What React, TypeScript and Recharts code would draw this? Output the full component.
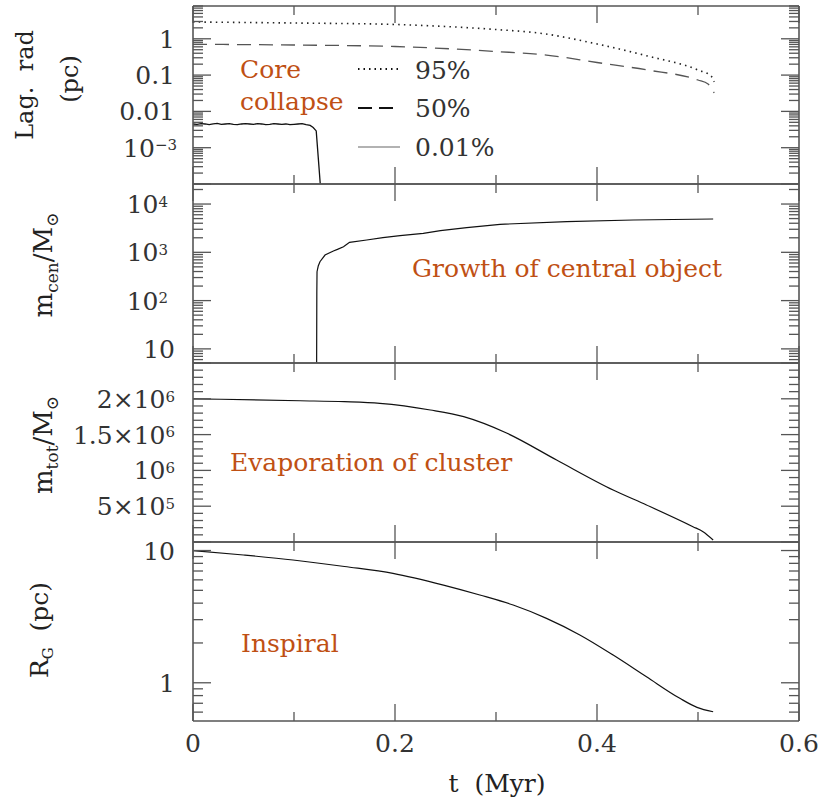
import React from 'react';
import { LineChart, Line, XAxis, YAxis } from 'recharts';

const W = 821;
const H = 802;
const PLOT_LEFT = 193;
const PLOT_RIGHT = 799;

// ---------- data ----------
// Panel 1: Lagrangian radii (pc)
const lag95T = [0, 0.1, 0.2, 0.25, 0.3, 0.344, 0.4, 0.45, 0.5, 0.513, 0.516];
const lag95R = [2.9, 2.72, 2.48, 2.18, 1.8, 1.42, 0.72, 0.336, 0.138, 0.094, 0.065];

const lag50T = [0, 0.1, 0.2, 0.3, 0.35, 0.4, 0.45, 0.5, 0.51, 0.516];
const lag50R = [0.705, 0.674, 0.613, 0.447, 0.357, 0.222, 0.138, 0.0732, 0.0568, 0.0321];

const lag001T = [
  0, 0.004, 0.008, 0.012, 0.016, 0.02, 0.024, 0.028, 0.032, 0.036,
  0.04, 0.044, 0.048, 0.052, 0.056, 0.06, 0.064, 0.068, 0.072, 0.076,
  0.08, 0.084, 0.088, 0.092, 0.096, 0.1, 0.104, 0.108, 0.112, 0.116,
  0.119, 0.122, 0.124, 0.126,
];
const lag001R = [
  0.0045, 0.0044, 0.0046, 0.0045, 0.0043, 0.0045, 0.0047, 0.0044, 0.0045, 0.0046,
  0.0044, 0.0043, 0.0045, 0.0046, 0.0045, 0.0044, 0.0046, 0.0045, 0.0043, 0.0044,
  0.0046, 0.0045, 0.0044, 0.0045, 0.0043, 0.0044, 0.0045, 0.0046, 0.0043, 0.0041,
  0.0036, 0.0029, 0.00054, 0.0001,
];

// Panel 2: central object mass
const mcenT = [0.1224, 0.1226, 0.1228, 0.124, 0.1257, 0.1307, 0.139, 0.143, 0.149, 0.152, 0.155, 0.172, 0.188, 0.205, 0.228, 0.245, 0.271, 0.304, 0.37, 0.436, 0.515];
const mcenM = [5.1, 150, 396, 520, 638, 879, 1065, 1150, 1306, 1450, 1611, 1799, 2009, 2208, 2477, 2806, 3238, 3802, 4307, 4667, 4897];

// Panel 3: total cluster mass
const mtotT = [0, 0.106, 0.15, 0.185, 0.235, 0.268, 0.311, 0.36, 0.416, 0.449, 0.495, 0.505, 0.515];
const mtotM = [2.0e6, 1.973e6, 1.96e6, 1.937e6, 1.844e6, 1.75e6, 1.518e6, 1.145e6, 0.726e6, 0.517e6, 0.214e6, 0.144e6, 0.028e6];

// Panel 4: galactocentric radius
const rgT = [0, 0.05, 0.099, 0.15, 0.198, 0.248, 0.284, 0.317, 0.35, 0.383, 0.416, 0.449, 0.482, 0.499, 0.515];
const rgR = [10.0, 9.25, 8.48, 7.57, 6.72, 5.48, 4.61, 3.87, 3.07, 2.3, 1.62, 1.11, 0.763, 0.652, 0.604];

// axis ticks / labels
const xTicks = [0, 0.1, 0.2, 0.3, 0.4, 0.5, 0.6];
const xMajorTicks = [0, 0.2, 0.4, 0.6];
const xTickLabels = ['0', '0.2', '0.4', '0.6'];

const toRows = (ts: number[], vs: number[]) => ts.map((t, i) => ({ t, v: vs[i] }));

// ---------- styling ----------
const FRAME = '#555';
const TICK_FONT = 'DejaVu Serif';
const TICK_FILL = '#333';
const ORANGE = '#bf5014';
const AXIS_LINE = { stroke: FRAME, strokeWidth: 1.6 };

const logTicks = (lo: number, hi: number) => {
  const out: number[] = [];
  for (let e = -6; e <= 6; e++) {
    for (let k = 1; k <= 9; k++) {
      const v = parseFloat((k * Math.pow(10, e)).toPrecision(6));
      if (v >= lo - 1e-12 && v <= hi + 1e-12) out.push(v);
    }
  }
  return out;
};
const isPow10 = (v: number) => Math.abs(Math.log10(v) - Math.round(Math.log10(v))) < 1e-9;

const sup = (base: string, exp: string) => (
  <>
    {base}
    <tspan dy="-0.42em" fontSize={15}>{exp}</tspan>
  </>
);

type Lab = { node: React.ReactNode; right: number } | null;

const yTick = (side: 'left' | 'right', isMajor: (v: number) => boolean, fmt?: (v: number) => Lab) => (props: any) => {
  const { x, y, payload } = props;
  const v = payload.value;
  const major = isMajor(v);
  const len = major ? 18 : 10;
  const d = side === 'left' ? 1 : -1;
  const lab = side === 'left' && fmt ? fmt(v) : null;
  return (
    <g>
      <line x1={x} x2={x + d * len} y1={y} y2={y} stroke={FRAME} strokeWidth={1.3} />
      {lab && (
        <text x={lab.right} y={y} dy="0.36em" textAnchor="end" fontFamily={TICK_FONT} fontSize={25} fill={TICK_FILL}>
          {lab.node}
        </text>
      )}
    </g>
  );
};

const xTick = (side: 'top' | 'bottom', showLabels: boolean) => (props: any) => {
  const { x, y, payload } = props;
  const v = payload.value;
  const mi = xMajorTicks.findIndex((m) => Math.abs(m - v) < 1e-9);
  const major = mi >= 0;
  const len = major ? 17 : 9;
  const d = side === 'bottom' ? -1 : 1;
  return (
    <g>
      <line x1={x} x2={x} y1={y} y2={y + d * len} stroke={FRAME} strokeWidth={1.3} />
      {showLabels && side === 'bottom' && major && (
        <text x={x} y={y + 31} textAnchor="middle" fontFamily={TICK_FONT} fontSize={25} fill={TICK_FILL}>
          {xTickLabels[mi]}
        </text>
      )}
    </g>
  );
};

type Series = { rows: { t: number; v: number }[]; stroke: string; width: number; dash?: string; curve: 'linear' | 'monotone' };

type PanelProps = {
  top: number;
  bottom: number;
  log: boolean;
  domain: [number, number];
  ticks: number[];
  isMajor: (v: number) => boolean;
  fmt: (v: number) => Lab;
  series: Series[];
  xLabels: boolean;
};

function Panel(p: PanelProps) {
  return (
    <div style={{ position: 'absolute', left: 0, top: 0 }}>
      <LineChart
        width={W}
        height={H}
        margin={{ top: p.top - 1, bottom: H - p.bottom - 1, left: PLOT_LEFT - 1, right: W - PLOT_RIGHT - 1 }}
      >
        <XAxis
          xAxisId="b"
          type="number"
          dataKey="t"
          domain={[0, 0.6]}
          ticks={xTicks}
          interval={0}
          orientation="bottom"
          height={1}
          tickSize={0}
          tickMargin={0}
          tickLine={false}
          axisLine={AXIS_LINE}
          tick={xTick('bottom', p.xLabels)}
          allowDataOverflow
        />
        <XAxis
          xAxisId="t"
          type="number"
          dataKey="t"
          domain={[0, 0.6]}
          ticks={xTicks}
          interval={0}
          orientation="top"
          height={1}
          tickSize={0}
          tickMargin={0}
          tickLine={false}
          axisLine={AXIS_LINE}
          tick={xTick('top', false)}
          allowDataOverflow
        />
        <YAxis
          yAxisId="l"
          type="number"
          scale={p.log ? 'log' : 'linear'}
          domain={p.domain}
          ticks={p.ticks}
          interval={0}
          orientation="left"
          width={1}
          tickSize={0}
          tickMargin={0}
          tickLine={false}
          axisLine={AXIS_LINE}
          tick={yTick('left', p.isMajor, p.fmt)}
          allowDataOverflow
        />
        <YAxis
          yAxisId="r"
          type="number"
          scale={p.log ? 'log' : 'linear'}
          domain={p.domain}
          ticks={p.ticks}
          interval={0}
          orientation="right"
          width={1}
          tickSize={0}
          tickMargin={0}
          tickLine={false}
          axisLine={AXIS_LINE}
          tick={yTick('right', p.isMajor)}
          allowDataOverflow
        />
        {p.series.map((s, i) => (
          <Line
            key={i}
            xAxisId="b"
            yAxisId="l"
            data={s.rows}
            dataKey="v"
            type={s.curve}
            stroke={s.stroke}
            strokeWidth={s.width}
            strokeDasharray={s.dash}
            dot={false}
            activeDot={false}
            isAnimationActive={false}
          />
        ))}
      </LineChart>
    </div>
  );
}

const P1_DOMAIN: [number, number] = [1e-4, 8];
const P2_DOMAIN: [number, number] = [5.1, 26000];
const P3_DOMAIN: [number, number] = [0, 2.5e6];
const P4_DOMAIN: [number, number] = [0.514, 11.6];

const p3Ticks = Array.from({ length: 26 }, (_, i) => i * 1e5);

const fmtP1 = (v: number): Lab => {
  if (Math.abs(v - 1) < 1e-9) return { node: '1', right: 175 };
  if (Math.abs(v - 0.1) < 1e-12) return { node: '0.1', right: 175 };
  if (Math.abs(v - 0.01) < 1e-12) return { node: '0.01', right: 175 };
  if (Math.abs(v - 0.001) < 1e-12) return { node: sup('10', '\u22123'), right: 177 };
  return null;
};
const fmtP2 = (v: number): Lab => {
  if (Math.abs(v - 10) < 1e-9) return { node: '10', right: 175 };
  if (Math.abs(v - 100) < 1e-9) return { node: sup('10', '2'), right: 168 };
  if (Math.abs(v - 1000) < 1e-9) return { node: sup('10', '3'), right: 168 };
  if (Math.abs(v - 10000) < 1e-9) return { node: sup('10', '4'), right: 168 };
  return null;
};
const fmtP3 = (v: number): Lab => {
  if (v === 2e6) return { node: sup('2\u00d710', '6'), right: 175 };
  if (v === 1.5e6) return { node: sup('1.5\u00d710', '6'), right: 175 };
  if (v === 1e6) return { node: sup('10', '6'), right: 175 };
  if (v === 5e5) return { node: sup('5\u00d710', '5'), right: 175 };
  return null;
};
const fmtP4 = (v: number): Lab => {
  if (Math.abs(v - 10) < 1e-9) return { node: '10', right: 175 };
  if (Math.abs(v - 1) < 1e-9) return { node: '1', right: 175 };
  return null;
};

const titleFont = { fontFamily: 'DejaVu Serif', fontSize: 24, fill: '#222' };
const noteFont = { fontFamily: 'DejaVu Serif', fontSize: 25, fill: ORANGE };
const legFont = { fontFamily: TICK_FONT, fontSize: 25, fill: TICK_FILL };

export default function App() {
  return (
    <div style={{ position: 'absolute', left: 0, top: 0, width: W, height: H, background: '#fff' }}>
      <Panel
        top={6}
        bottom={184}
        log
        domain={P1_DOMAIN}
        ticks={logTicks(P1_DOMAIN[0], P1_DOMAIN[1])}
        isMajor={isPow10}
        fmt={fmtP1}
        xLabels={false}
        series={[
          { rows: toRows(lag95T, lag95R), stroke: '#222', width: 1.6, dash: '1.5 4.2', curve: 'monotone' },
          { rows: toRows(lag50T, lag50R), stroke: '#555', width: 1.3, dash: '14 8', curve: 'monotone' },
          { rows: toRows(lag001T, lag001R), stroke: '#111', width: 1.3, curve: 'linear' },
        ]}
      />
      <Panel
        top={184}
        bottom={363}
        log
        domain={P2_DOMAIN}
        ticks={logTicks(P2_DOMAIN[0], P2_DOMAIN[1])}
        isMajor={isPow10}
        fmt={fmtP2}
        xLabels={false}
        series={[{ rows: toRows(mcenT, mcenM), stroke: '#111', width: 1.2, curve: 'linear' }]}
      />
      <Panel
        top={363}
        bottom={542}
        log={false}
        domain={P3_DOMAIN}
        ticks={p3Ticks}
        isMajor={(v) => v % 5e5 === 0}
        fmt={fmtP3}
        xLabels={false}
        series={[{ rows: toRows(mtotT, mtotM), stroke: '#111', width: 1.2, curve: 'monotone' }]}
      />
      <Panel
        top={542}
        bottom={721}
        log
        domain={P4_DOMAIN}
        ticks={logTicks(P4_DOMAIN[0], P4_DOMAIN[1])}
        isMajor={isPow10}
        fmt={fmtP4}
        xLabels
        series={[{ rows: toRows(rgT, rgR), stroke: '#111', width: 1.2, curve: 'monotone' }]}
      />
      <svg width={W} height={H} style={{ position: 'absolute', left: 0, top: 0, pointerEvents: 'none' }}>
        {/* axis titles */}
        <text transform="translate(33,85) rotate(-90)" textAnchor="middle" style={{ whiteSpace: 'pre' }} {...titleFont}>
          Lag.  rad
        </text>
        <text transform="translate(78,79) rotate(-90)" textAnchor="middle" {...titleFont}>
          (pc)
        </text>
        <text transform="translate(52,265) rotate(-90)" textAnchor="middle" {...titleFont} fontSize={26}>
          m<tspan dy="6" fontSize={17}>cen</tspan>
          <tspan dy="-6">/M</tspan>
          <tspan dy="6" fontSize={17}>{'\u2299'}</tspan>
        </text>
        <text transform="translate(52,445) rotate(-90)" textAnchor="middle" {...titleFont} fontSize={26}>
          m<tspan dy="6" fontSize={17}>tot</tspan>
          <tspan dy="-6">/M</tspan>
          <tspan dy="6" fontSize={17}>{'\u2299'}</tspan>
        </text>
        <text transform="translate(48,630) rotate(-90)" textAnchor="middle" style={{ whiteSpace: 'pre' }} {...titleFont} fontSize={25}>
          R<tspan dy="5" fontSize={15}>G</tspan>
          <tspan dy="-5">{'  (pc)'}</tspan>
        </text>
        <text x={497} y={792} textAnchor="middle" style={{ whiteSpace: 'pre' }} {...titleFont} fontSize={25}>
          t  (Myr)
        </text>

        {/* annotations */}
        <text x={240} y={78} {...noteFont}>Core</text>
        <text x={240} y={110} {...noteFont}>collapse</text>
        <text x={412} y={277} {...noteFont}>Growth of central object</text>
        <text x={230} y={471} {...noteFont}>Evaporation of cluster</text>
        <text x={241} y={652} {...noteFont}>Inspiral</text>

        {/* legend */}
        <line x1={358} x2={400} y1={69} y2={69} stroke="#111" strokeWidth={1.8} strokeDasharray="1.5 4" />
        <line x1={358} x2={400} y1={108} y2={108} stroke="#111" strokeWidth={2} strokeDasharray="14 7" />
        <line x1={358} x2={400} y1={147} y2={147} stroke="#666" strokeWidth={1.2} />
        <text x={415} y={70} dy="0.36em" {...legFont}>95%</text>
        <text x={415} y={108} dy="0.36em" {...legFont}>50%</text>
        <text x={415} y={147} dy="0.36em" {...legFont}>0.01%</text>
      </svg>
    </div>
  );
}
